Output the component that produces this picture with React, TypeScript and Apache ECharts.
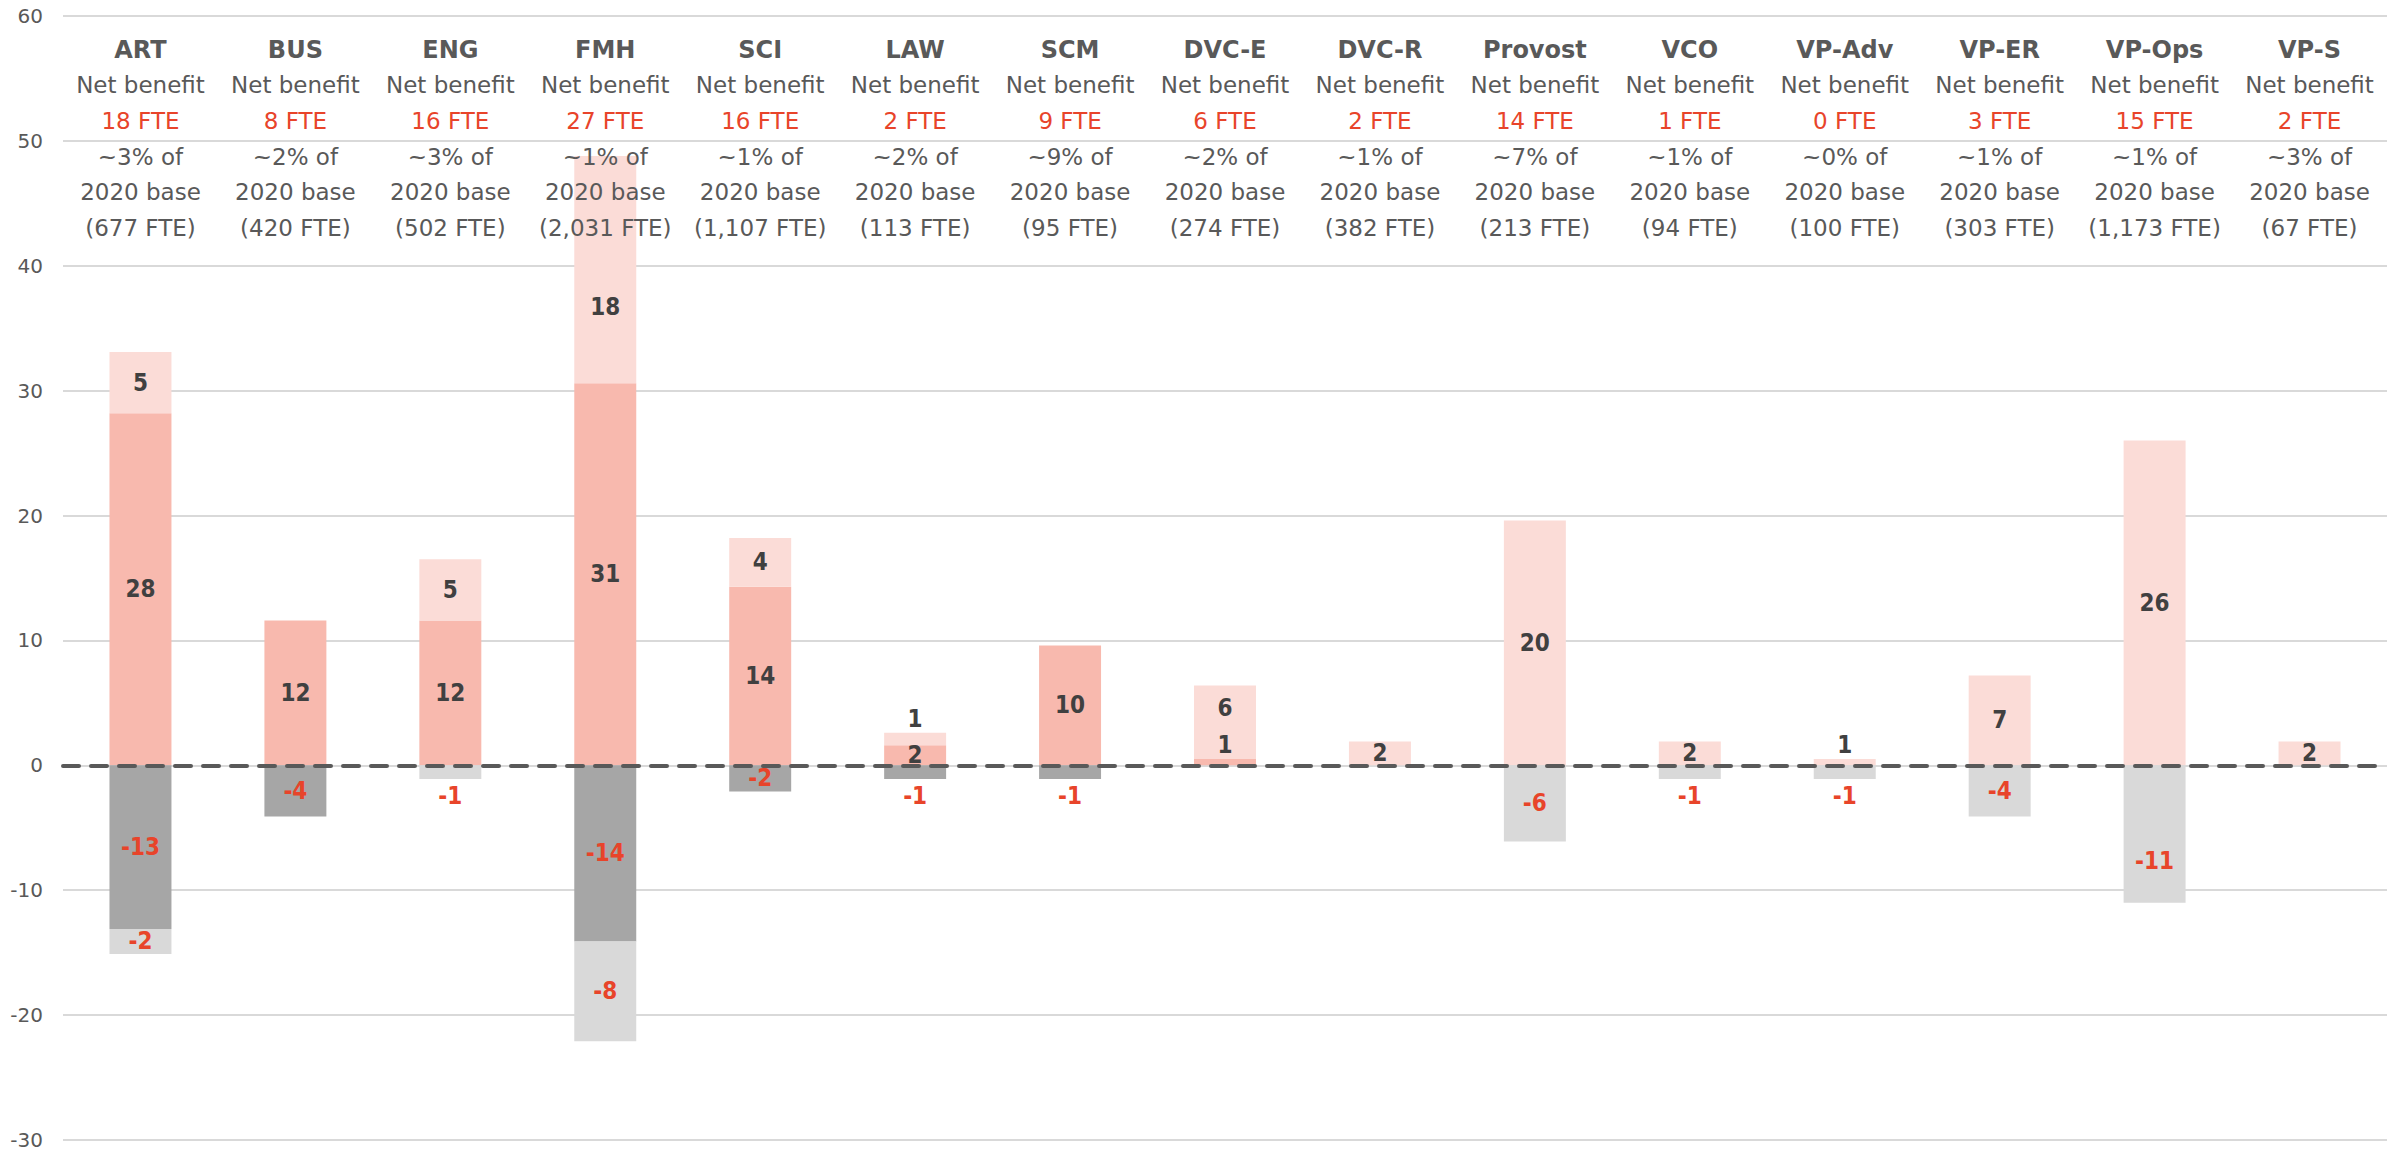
import React, { useEffect, useRef } from "react";
import * as echarts from "echarts";

// ---- Data ----
const categories = ["ART", "BUS", "ENG", "FMH", "SCI", "LAW", "SCM", "DVC-E", "DVC-R", "Provost", "VCO", "VP-Adv", "VP-ER", "VP-Ops", "VP-S"];
const netBenefitFte = [18, 8, 16, 27, 16, 2, 9, 6, 2, 14, 1, 0, 3, 15, 2];
const shareOfBasePct = [3, 2, 3, 1, 1, 2, 9, 2, 1, 7, 1, 0, 1, 1, 3];
const base2020Fte = ["677", "420", "502", "2,031", "1,107", "113", "95", "274", "382", "213", "94", "100", "303", "1,173", "67"];

const benefitPrimary = [28.2, 11.6, 11.6, 30.6, 14.3, 1.6, 9.6, 0.5, 0, 0, 0, 0, 0, 0, 0];
const benefitAdditional = [4.9, 0, 4.9, 18.2, 3.9, 1.0, 0, 5.9, 1.9, 19.6, 1.9, 0.5, 7.2, 26.0, 1.9];
const costPrimary = [-13.1, -4.1, 0, -14.1, -2.1, -1.1, -1.1, 0, 0, 0, 0, 0, 0, 0, 0];
const costAdditional = [-2.0, 0, -1.1, -8.0, 0, 0, 0, 0, 0, -6.1, -1.1, -1.1, -4.1, -11.0, 0];

const yTicks = { min: -30, max: 60, interval: 10 };

// ---- Styling ----
const TEXT = "#595959";
const RED = "#E8442A";
const HEAD_FONT = "'DejaVu Sans', 'Noto Sans', sans-serif";
const NUM_FONT = "'Liberation Sans Narrow', 'DejaVu Sans Condensed', 'Roboto Condensed', sans-serif";

// label nudges (pixel offsets) that the reference applies to a few labels
const labelNudges: Record<string, [number, number]> = {
  "FMH|bA": [0, 37],
  "DVC-E|bA": [0, -14],
  "VP-Ops|cA": [0, 27],
};

type SeriesDef = { id: string; name: string; values: number[]; color: string; positive: boolean };

const seriesDefs: SeriesDef[] = [
  { id: "bP", name: "Benefit (primary)", values: benefitPrimary, color: "#F8B9AE", positive: true },
  { id: "bA", name: "Benefit (additional)", values: benefitAdditional, color: "#FBDCD7", positive: true },
  { id: "cP", name: "Cost (primary)", values: costPrimary, color: "#A6A6A6", positive: false },
  { id: "cA", name: "Cost (additional)", values: costAdditional, color: "#D9D9D9", positive: false },
];

function buildSeries() {
  return seriesDefs.map((s) => ({
    name: s.name,
    type: "bar",
    stack: "total",
    barWidth: "40%",
    xAxisIndex: 0,
    itemStyle: { color: s.color },
    label: {
      show: true,
      position: "inside",
      fontFamily: NUM_FONT,
      fontWeight: "bold",
      fontSize: 24,
      color: s.positive ? "#404040" : RED,
      formatter: (p: any) => {
        const v = typeof p.value === "number" ? p.value : p.value?.value;
        if (!v) return "";
        return String(Math.round(v));
      },
    },
    data: s.values.map((v, i) => {
      const item: any = { value: v };
      const key = categories[i] + "|" + s.id;
      if (v !== 0 && s.positive && v < 1.2) {
        item.label = { position: "top", distance: 2 };
      } else if (v !== 0 && !s.positive && v > -1.5) {
        item.label = { position: "bottom", distance: 5 };
      }
      if (labelNudges[key]) {
        item.label = { ...(item.label || {}), offset: labelNudges[key] };
      }
      return item;
    }),
  }));
}

export default function App() {
  const ref = useRef<HTMLDivElement>(null);
  useEffect(() => {
    if (!ref.current) return;
    const chart = echarts.init(ref.current, undefined, { renderer: "svg" });
    const option: any = {
      animation: false,
      backgroundColor: "#ffffff",
      grid: { left: 63, right: 18, top: 16, bottom: 11 },
      xAxis: [
        {
          type: "category",
          data: categories,
          position: "bottom",
          z: 10,
          axisLine: { show: true, onZero: true, lineStyle: { color: "#595959", width: 4, type: [16, 12] } },
          axisTick: { show: false },
          axisLabel: { show: false },
        },
        {
          type: "category",
          data: categories,
          position: "top",
          z: 10,
          axisLine: { show: false, onZero: false },
          axisTick: { show: false },
          axisLabel: {
            show: true,
            inside: true,
            interval: 0,
            margin: 16,
            formatter: (_v: string, i: number) =>
              `{t|${categories[i]}}\n{n|Net benefit}\n{r|${netBenefitFte[i]} FTE}\n{n|~${shareOfBasePct[i]}% of}\n{n|2020 base}\n{n|(${base2020Fte[i]} FTE)}`,
            rich: {
              t: { fontFamily: HEAD_FONT, fontWeight: "bold", fontSize: 24, color: TEXT, lineHeight: 35.6 },
              n: { fontFamily: HEAD_FONT, fontSize: 23, color: TEXT, lineHeight: 35.6 },
              r: { fontFamily: HEAD_FONT, fontSize: 23, color: RED, lineHeight: 35.6 },
            },
          },
        },
      ],
      yAxis: {
        type: "value",
        min: yTicks.min,
        max: yTicks.max,
        interval: yTicks.interval,
        axisLine: { show: false },
        axisTick: { show: false },
        splitLine: { show: true, lineStyle: { color: "#D9D9D9", width: 2 } },
        axisLabel: { fontFamily: HEAD_FONT, fontSize: 20, color: TEXT, margin: 20 },
      },
      series: buildSeries(),
    };
    chart.setOption(option);
    return () => chart.dispose();
  }, []);
  return <div ref={ref} style={{ position: "absolute", left: 0, top: 0, width: 2405, height: 1151 }} />;
}
